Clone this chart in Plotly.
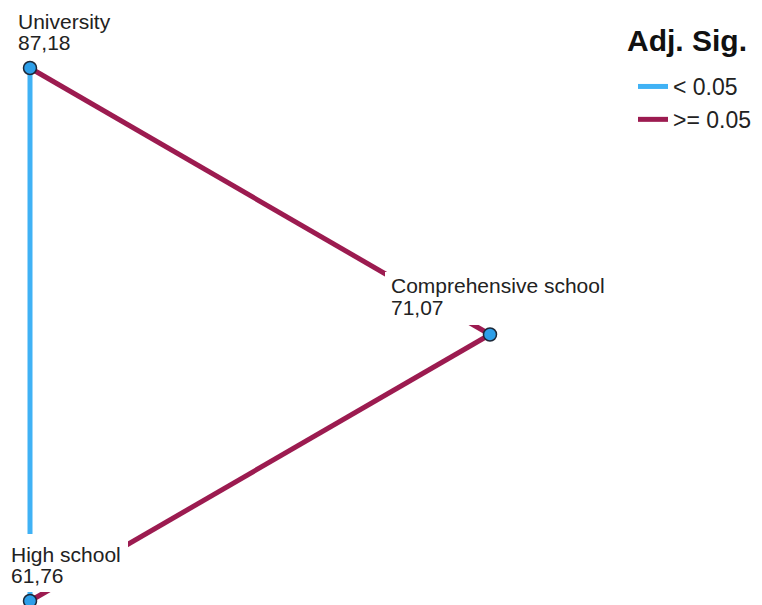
import plotly.graph_objects as go

# ---------------- data ----------------
nodes = ["University", "Comprehensive school", "High school"]
mean_ranks = [87.18, 71.07, 61.76]
rank_labels = ["87,18", "71,07", "61,76"]

edge_from = ["University", "University", "Comprehensive school"]
edge_to = ["High school", "Comprehensive school", "High school"]
edge_sig = ["< 0.05", ">= 0.05", ">= 0.05"]

legend_title = "Adj. Sig."

# ---------------- layout / style ----------------
node_pos = {  # abstract network layout coordinates
    "University": (0, 2),
    "Comprehensive school": (1, 1),
    "High school": (0, 0),
}
# label placement (pixel offsets from node centre)
label_style = {
    "University": dict(dx=-12, name_dy=47, val_dy=26, box=(-18, 88, 13, 62)),
    "Comprehensive school": dict(dx=-99, name_dy=49, val_dy=27.5, box=(-105, 122, 9.5, 62.5)),
    "High school": dict(dx=-19, name_dy=47, val_dy=26, box=(-32, 98, 9, 67)),
}
sig_colors = {"< 0.05": "#40b2f5", ">= 0.05": "#9c1b50"}
text_color = "#222222"
FONT = "Liberation Sans, Arial, sans-serif"

fig = go.Figure()

# edges
shown = set()
for a, b, s in zip(edge_from, edge_to, edge_sig):
    xa, ya = node_pos[a]
    xb, yb = node_pos[b]
    fig.add_trace(go.Scatter(
        x=[xa, xb], y=[ya, yb], mode="lines",
        line=dict(color=sig_colors[s], width=5),
        name=s, legendgroup=s, showlegend=s not in shown,
        hoverinfo="skip",
    ))
    shown.add(s)

# nodes
fig.add_trace(go.Scatter(
    x=[node_pos[n][0] for n in nodes],
    y=[node_pos[n][1] for n in nodes],
    mode="markers",
    marker=dict(size=13, color="#2d9fe9", line=dict(color="#1c2838", width=1.5)),
    showlegend=False, text=nodes, customdata=mean_ranks,
    hovertemplate="%{text}: %{customdata}<extra></extra>",
))

# label backgrounds + labels
for n, lab in zip(nodes, rank_labels):
    x, y = node_pos[n]
    st = label_style[n]
    bx0, bx1, by0, by1 = st["box"]
    fig.add_shape(type="rect", xref="x", yref="y",
                  xsizemode="pixel", ysizemode="pixel",
                  xanchor=x, yanchor=y, x0=bx0, x1=bx1, y0=by0, y1=by1,
                  fillcolor="white", line=dict(width=0), layer="above")
    for txt, dy in ((n, st["name_dy"]), (lab, st["val_dy"])):
        fig.add_annotation(x=x, y=y, xref="x", yref="y", text=txt, showarrow=False,
                           xanchor="left", yanchor="middle",
                           xshift=st["dx"], yshift=dy,
                           borderpad=0, borderwidth=0,
                           font=dict(family=FONT, size=21, color=text_color))

# legend title
fig.add_annotation(x=627 / 762, y=1 - 40 / 605, xref="paper", yref="paper",
                   text="<b>" + legend_title + "</b>", showarrow=False,
                   xanchor="left", yanchor="middle", borderpad=0, borderwidth=0,
                   font=dict(family=FONT, size=30, color="#111111"))

fig.update_layout(
    width=762, height=605,
    margin=dict(l=0, r=0, t=0, b=0),
    paper_bgcolor="white", plot_bgcolor="white",
    xaxis=dict(range=[-30 / 460, 732 / 460], visible=False, fixedrange=True),
    yaxis=dict(range=[-4 / 266.5, 601 / 266.5], visible=False, fixedrange=True),
    showlegend=True,
    legend=dict(
        x=633 / 762, y=1 - 65 / 605, xanchor="left", yanchor="top",
        bgcolor="rgba(0,0,0,0)",
        font=dict(family=FONT, size=23, color=text_color),
        tracegroupgap=0, itemwidth=30,
    ),
)

fig.write_html("out.html")
